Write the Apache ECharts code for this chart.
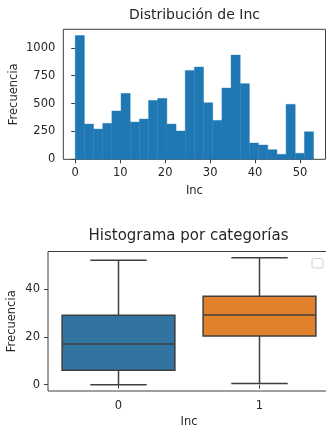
<!DOCTYPE html>
<html>
<head>
<meta charset="utf-8">
<script src="https://cdn.jsdelivr.net/npm/echarts@6/dist/echarts.min.js"></script>
<style>
	html, body { margin: 0; padding: 0; background: #fff; }
	#chart { width: 326px; height: 432px; }
</style>
</head>
<body>
<div id="chart"></div>
<script>
// histograma: bordes de los bins y frecuencias
const histEdges = [0, 2.04, 4.08, 6.12, 8.15, 10.19, 12.23, 14.27, 16.31, 18.35, 20.38, 22.42, 24.46, 26.5,
	28.54, 30.58, 32.62, 34.65, 36.69, 38.73, 40.77, 42.81, 44.85, 46.88, 48.92, 50.96, 53]
const histCounts = [1110, 316, 271, 322, 433, 591, 334, 361, 528, 546, 316, 254, 797, 827, 507, 349,
	639, 934, 678, 146, 128, 86, 45, 493, 54, 247]
const histXTicks = [0, 10, 20, 30, 40, 50]
const histYTicks = [0, 250, 500, 750, 1000]

// boxplot por categoria: [min, q1, mediana, q3, max]
const boxCategories = ['0', '1']
const boxLow = [0, 0.5]
const boxQ1 = [6, 20.3]
const boxMedian = [17, 29.1]
const boxQ3 = [29, 36.9]
const boxHigh = [52, 53]
const boxYTicks = [0, 20, 40]
const boxColors = ['#3274a1', '#e1812c']

const font = 'DejaVu Sans'
const textColor = '#262626'
const edgeColor = '#3f3f3f'

const histData = histCounts.map((c, i) => [histEdges[i], histEdges[i + 1], c])
const boxData = boxCategories.map((_c, i) => [i, boxLow[i], boxQ1[i], boxMedian[i], boxQ3[i], boxHigh[i]])

const myChart = echarts.init(document.getElementById('chart'))

const axisText = { color: textColor, fontSize: 11.5, fontFamily: font, formatter: (v) => String(v) }
const nameText = { color: textColor, fontSize: 11.5, fontFamily: font }

let option = {
	animation: false,
	title: [
		{
			text: 'Distribución de Inc',
			left: 194.5,
			top: 8,
			textAlign: 'center',
			padding: 0,
			textStyle: { color: textColor, fontSize: 14, fontWeight: 'normal', fontFamily: font },
		},
		{
			text: 'Histograma por categorías',
			left: 188.5,
			top: 229,
			textAlign: 'center',
			padding: 0,
			textStyle: { color: textColor, fontSize: 15, fontWeight: 'normal', fontFamily: font },
		},
	],
	grid: [
		{
			left: 63.3,
			right: 0.5,
			top: 29.3,
			bottom: 272.7,
			show: true,
			borderColor: edgeColor,
			borderWidth: 1,
			outerBoundsMode: 'none',
		},
		{
			left: 48,
			right: -4,
			top: 251.5,
			bottom: 41,
			show: true,
			borderColor: edgeColor,
			borderWidth: 1,
			outerBoundsMode: 'none',
		},
	],
	xAxis: [
		{
			gridIndex: 0,
			type: 'value',
			min: -2.65,
			max: 55.65,
			name: 'Inc',
			nameLocation: 'middle',
			nameGap: 26,
			nameMoveOverlap: false,
			nameTextStyle: nameText,
			axisLine: { show: false },
			axisTick: { show: true, length: 4, customValues: histXTicks, lineStyle: { color: edgeColor } },
			axisLabel: { customValues: histXTicks, margin: 8, ...axisText },
			splitLine: { show: false },
		},
		{
			gridIndex: 1,
			type: 'category',
			data: boxCategories,
			name: 'Inc',
			nameLocation: 'middle',
			nameGap: 25,
			nameMoveOverlap: false,
			nameTextStyle: nameText,
			axisLine: { show: false },
			axisTick: { show: true, length: 4, alignWithLabel: true, lineStyle: { color: edgeColor } },
			axisLabel: { margin: 9, color: textColor, fontSize: 11.5, fontFamily: font },
			splitLine: { show: false },
		},
	],
	yAxis: [
		{
			gridIndex: 0,
			type: 'value',
			min: 0,
			max: 1165.5,
			name: 'Frecuencia',
			nameLocation: 'middle',
			nameGap: 43,
			nameMoveOverlap: false,
			nameTextStyle: nameText,
			axisLine: { show: false },
			axisTick: { show: true, length: 4, customValues: histYTicks, lineStyle: { color: edgeColor } },
			axisLabel: { customValues: histYTicks, margin: 8, ...axisText },
			splitLine: { show: false },
		},
		{
			gridIndex: 1,
			type: 'value',
			min: -2.65,
			max: 55.65,
			name: 'Frecuencia',
			nameLocation: 'middle',
			nameGap: 29.5,
			nameMoveOverlap: false,
			nameTextStyle: nameText,
			axisLine: { show: false },
			axisTick: { show: true, length: 4, customValues: boxYTicks, lineStyle: { color: edgeColor } },
			axisLabel: { customValues: boxYTicks, margin: 8, ...axisText },
			splitLine: { show: false },
		},
	],
	// leyenda vacia (matplotlib)
	graphic: [
		{
			type: 'rect',
			shape: { x: 312, y: 258.5, width: 11, height: 9.5, r: 2 },
			style: { fill: '#fff', stroke: '#d0d0d0', lineWidth: 1 },
			z: 10,
		},
	],
	series: [
		{
			type: 'custom',
			xAxisIndex: 0,
			yAxisIndex: 0,
			data: histData,
			renderItem: (params, api) => {
				const p0 = api.coord([api.value(0), 0])
				const p1 = api.coord([api.value(1), api.value(2)])
				return {
					type: 'rect',
					shape: { x: p0[0], y: p1[1], width: p1[0] - p0[0], height: p0[1] - p1[1] },
					style: { fill: '#1f77b4', stroke: '#1f77b4', lineWidth: 0.4 },
				}
			},
		},
		{
			type: 'custom',
			xAxisIndex: 1,
			yAxisIndex: 1,
			data: boxData,
			renderItem: (params, api) => {
				const idx = api.value(0)
				const band = api.size([1, 0])[0]
				const cx = api.coord([idx, 0])[0]
				const yLow = api.coord([idx, api.value(1)])[1]
				const yQ1 = api.coord([idx, api.value(2)])[1]
				const yMed = api.coord([idx, api.value(3)])[1]
				const yQ3 = api.coord([idx, api.value(4)])[1]
				const yHigh = api.coord([idx, api.value(5)])[1]
				const hw = band * 0.4
				const cw = band * 0.2
				const ls = { stroke: edgeColor, lineWidth: 1.5 }
				return {
					type: 'group',
					children: [
						{ type: 'line', shape: { x1: cx, y1: yQ1, x2: cx, y2: yLow }, style: ls },
						{ type: 'line', shape: { x1: cx, y1: yQ3, x2: cx, y2: yHigh }, style: ls },
						{ type: 'line', shape: { x1: cx - cw, y1: yLow, x2: cx + cw, y2: yLow }, style: ls },
						{ type: 'line', shape: { x1: cx - cw, y1: yHigh, x2: cx + cw, y2: yHigh }, style: ls },
						{
							type: 'rect',
							shape: { x: cx - hw, y: yQ3, width: hw * 2, height: yQ1 - yQ3 },
							style: { fill: boxColors[idx], stroke: edgeColor, lineWidth: 1.5 },
						},
						{ type: 'line', shape: { x1: cx - hw, y1: yMed, x2: cx + hw, y2: yMed }, style: ls },
					],
				}
			},
		},
	],
}
myChart.setOption(option)
window.addEventListener('resize', () => {
	myChart.resize()
})
</script>
</body>
</html>
